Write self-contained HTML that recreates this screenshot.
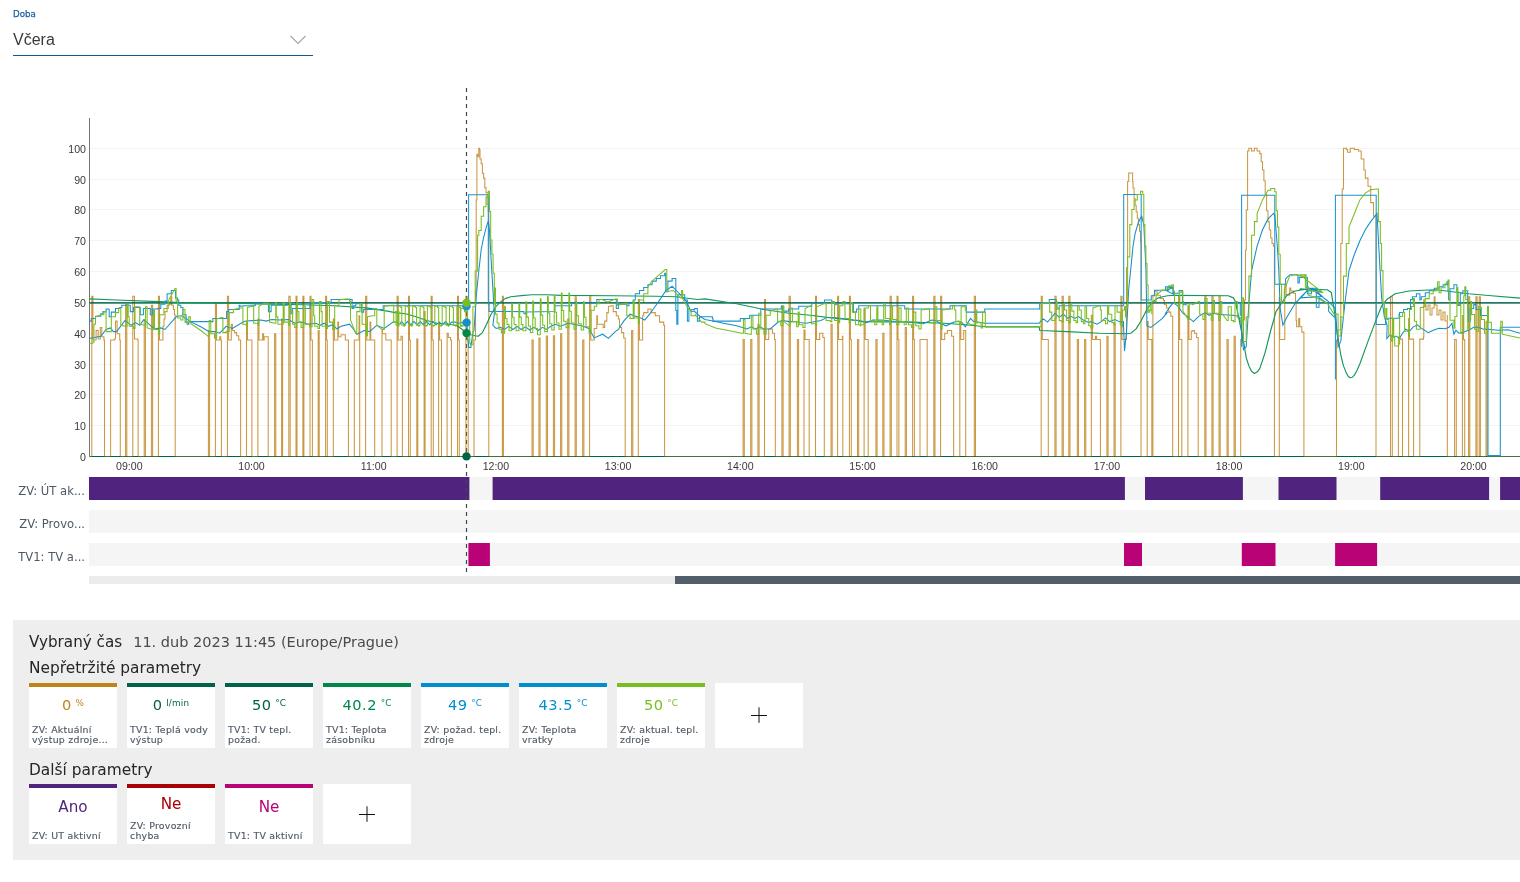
<!DOCTYPE html>
<html lang="cs"><head><meta charset="utf-8"><title>Graf</title>
<style>
*{box-sizing:border-box;margin:0;padding:0}
html,body{width:1520px;height:882px;overflow:hidden;background:#fff}
body{position:relative;font-family:"Liberation Sans","DejaVu Sans",sans-serif;color:#333}
.abs{position:absolute}
.doba{left:13px;top:9px;font-family:"DejaVu Sans",sans-serif;font-size:8.7px;color:#1c62a3;line-height:11px;-webkit-text-stroke:0.25px #1c62a3}
.sel{left:13px;top:30.4px;font-size:16px;color:#3a3a3a;line-height:20px}
.uline{left:13px;top:54.5px;width:300px;height:1.5px;background:#0e5a96}
.chev{left:289px;top:34px}
.chart{position:absolute;left:0;top:0}
.yl,.xl{font-family:"Liberation Sans",sans-serif;font-size:10.6px;fill:#3a3a3a}
.rl{font-family:"DejaVu Sans",sans-serif;font-size:11.6px;fill:#4d5866}
.panel{left:13px;top:620px;width:1507px;height:240px;background:#eeeeee}
.h1{left:29px;top:632px;font-family:"DejaVu Sans",sans-serif;font-size:15.2px;line-height:20px;color:#262626;white-space:nowrap}
.h1 .ts{color:#4a4a4a;margin-left:11px;font-size:14.5px}
.h2{left:29px;font-family:"DejaVu Sans",sans-serif;font-size:15.4px;line-height:20px;color:#262626;white-space:nowrap}
.card{position:absolute;width:88px;background:#fff;border-top:4px solid #000}
.card .val{position:absolute;left:0;right:0;top:8.9px;text-align:center;font-family:"DejaVu Sans",sans-serif;font-size:14.6px;letter-spacing:0.55px;line-height:18px;white-space:nowrap}
.card .val sup{font-size:8.8px;letter-spacing:0.2px;vertical-align:top;position:relative;top:2.2px;margin-left:3.6px;line-height:10px}
.card .lab{position:absolute;left:3px;right:0;bottom:3.7px;font-family:"DejaVu Sans",sans-serif;font-size:9.4px;letter-spacing:0.25px;line-height:9.7px;color:#505a66;white-space:nowrap;-webkit-text-stroke:0.15px #505a66}
.card.plus{border-top:0}
.card.plus svg{position:absolute;left:0;top:0}
.card.c2 .val{font-size:15.2px;letter-spacing:0}
</style></head><body>
<div class="abs doba">Doba</div>
<div class="abs sel">Včera</div>
<svg class="abs chev" width="18" height="12" viewBox="0 0 18 12"><path d="M1.5 2 L9 9.5 L16.5 2" fill="none" stroke="#a6a6a6" stroke-width="1.1"/></svg>
<div class="abs uline"></div>
<svg class="chart" width="1520" height="600" viewBox="0 0 1520 600">
<line x1="90" y1="425.5" x2="1520" y2="425.5" stroke="#f4f4f4" stroke-width="1"/>
<line x1="90" y1="394.5" x2="1520" y2="394.5" stroke="#f4f4f4" stroke-width="1"/>
<line x1="90" y1="364.5" x2="1520" y2="364.5" stroke="#f4f4f4" stroke-width="1"/>
<line x1="90" y1="333.5" x2="1520" y2="333.5" stroke="#f4f4f4" stroke-width="1"/>
<line x1="90" y1="302.5" x2="1520" y2="302.5" stroke="#f4f4f4" stroke-width="1"/>
<line x1="90" y1="271.5" x2="1520" y2="271.5" stroke="#f4f4f4" stroke-width="1"/>
<line x1="90" y1="240.5" x2="1520" y2="240.5" stroke="#f4f4f4" stroke-width="1"/>
<line x1="90" y1="209.5" x2="1520" y2="209.5" stroke="#f4f4f4" stroke-width="1"/>
<line x1="90" y1="179.5" x2="1520" y2="179.5" stroke="#f4f4f4" stroke-width="1"/>
<line x1="90" y1="148.5" x2="1520" y2="148.5" stroke="#f4f4f4" stroke-width="1"/>
<line x1="89.5" y1="118" x2="89.5" y2="456.5" stroke="#757575" stroke-width="1"/>
<text x="86" y="460.6" text-anchor="end" class="yl">0</text>
<text x="86" y="429.8" text-anchor="end" class="yl">10</text>
<text x="86" y="398.8" text-anchor="end" class="yl">20</text>
<text x="86" y="368.8" text-anchor="end" class="yl">30</text>
<text x="86" y="337.8" text-anchor="end" class="yl">40</text>
<text x="86" y="306.8" text-anchor="end" class="yl">50</text>
<text x="86" y="275.8" text-anchor="end" class="yl">60</text>
<text x="86" y="244.8" text-anchor="end" class="yl">70</text>
<text x="86" y="213.8" text-anchor="end" class="yl">80</text>
<text x="86" y="183.8" text-anchor="end" class="yl">90</text>
<text x="86" y="152.8" text-anchor="end" class="yl">100</text>
<text x="129.3" y="470" text-anchor="middle" class="xl">09:00</text>
<text x="251.5" y="470" text-anchor="middle" class="xl">10:00</text>
<text x="373.7" y="470" text-anchor="middle" class="xl">11:00</text>
<text x="495.9" y="470" text-anchor="middle" class="xl">12:00</text>
<text x="618.1" y="470" text-anchor="middle" class="xl">13:00</text>
<text x="740.3" y="470" text-anchor="middle" class="xl">14:00</text>
<text x="862.5" y="470" text-anchor="middle" class="xl">15:00</text>
<text x="984.7" y="470" text-anchor="middle" class="xl">16:00</text>
<text x="1106.9" y="470" text-anchor="middle" class="xl">17:00</text>
<text x="1229.1" y="470" text-anchor="middle" class="xl">18:00</text>
<text x="1351.3" y="470" text-anchor="middle" class="xl">19:00</text>
<text x="1473.5" y="470" text-anchor="middle" class="xl">20:00</text>
<rect x="89" y="477" width="1431" height="23" fill="#f5f5f5"/>
<rect x="89" y="510" width="1431" height="23" fill="#f5f5f5"/>
<rect x="89" y="543" width="1431" height="23" fill="#f5f5f5"/>
<rect x="89" y="477" width="380.4" height="23" fill="#50237f"/>
<rect x="492.6" y="477" width="632.3" height="23" fill="#50237f"/>
<rect x="1145" y="477" width="97.9" height="23" fill="#50237f"/>
<rect x="1278.5" y="477" width="58.0" height="23" fill="#50237f"/>
<rect x="1380.2" y="477" width="108.9" height="23" fill="#50237f"/>
<rect x="1500.1" y="477" width="19.9" height="23" fill="#50237f"/>
<rect x="468.4" y="543" width="21.5" height="23" fill="#b90276"/>
<rect x="1124" y="543" width="18.0" height="23" fill="#b90276"/>
<rect x="1241.8" y="543" width="33.7" height="23" fill="#b90276"/>
<rect x="1335.1" y="543" width="42.0" height="23" fill="#b90276"/>
<text x="85" y="494.9" text-anchor="end" class="rl">ZV: ÚT ak...</text>
<text x="85" y="527.9" text-anchor="end" class="rl">ZV: Provo...</text>
<text x="85" y="560.8" text-anchor="end" class="rl">TV1: TV a...</text>
<rect x="89" y="576" width="586" height="8" fill="#ececec"/>
<rect x="675" y="576" width="845" height="8" fill="#525f6b"/>
<line x1="466.5" y1="88" x2="466.5" y2="572" stroke="#3c4754" stroke-width="1.2" stroke-dasharray="4 4"/>
<path d="M91.8 456.4L91.8 296.3L92.9 296.3L92.9 340L95.5 340L96.1 340L96.1 330.5L97.6 330.5L98.2 330.5L98.2 338.9L100.3 338.9L100.3 327.4L101.3 327.4L101.8 327.4L101.8 336.8L103.9 336.8L103.9 340L104.5 340L104.5 456.4M110.6 456.4L110.6 340L114.5 340L114.5 338.9L115.5 338.9L115.5 321.1L116.6 321.1L117.1 321.1L117.1 333.7L118.7 333.7L119.7 333.7L119.7 340L120.3 340L120.3 456.4M125.6 456.4L125.6 304.2L126.8 304.2L126.8 456.4M132.8 456.4L132.8 296.3L134 296.3L134.5 296.3L134.5 338.9L137.6 338.9L137.6 340L138.1 340L138.1 456.4M144.2 456.4L144.2 320L145.4 320L145.4 456.4M151.4 456.4L151.4 305.3L152.6 305.3L152.6 456.4M158.4 456.4L158.4 296.3L159.5 296.3L159.5 340L162.4 340L162.9 340L162.9 326.3L164 326.3L164 319L165 319L165 311.6L167.1 311.6L167.1 305.3L169.2 305.3L169.2 304.2L170.8 304.2L170.8 296.8L171.8 296.8L171.8 305.3L173.4 305.3L173.4 309.5L174.5 309.5L174.5 314.7L175.2 314.7L175.2 456.4M208.4 456.4L208.4 330.5L209.6 330.5L209.6 456.4M215.4 456.4L215.4 303.2L216.5 303.2L216.5 340L218.7 340L219.7 340L219.7 336.8L220.8 336.8L220.8 340L221.4 340L221.4 456.4M227.4 456.4L227.4 296.3L228.6 296.3L228.6 340L230.8 340L231.3 340L231.3 324.2L232.4 324.2L232.4 330.5L234.5 330.5L234.5 332.6L236.6 332.6L236.6 335.8L238.7 335.8L238.7 340L240.6 340L240.6 456.4M246.5 456.4L246.5 322.1L247.5 322.1L247.5 340L251.9 340L251.9 456.4M257.9 456.4L257.9 319L259 319L259 340L262.4 340L262.6 340L262.6 333.7L263.4 333.7L263.6 333.7L263.6 340L264.2 340L264.2 336.8L267.6 336.8L268.2 336.8L268.2 340L268.2 456.4M274.6 456.4L274.6 333.7L275.8 333.7L275.8 456.4M281.6 456.4L281.6 319L282.6 319L282.6 456.4M288.8 456.4L288.8 296.3L290.2 296.3L290.2 456.4M296 456.4L296 296.3L297 296.3L297 456.4M302.9 456.4L302.9 296.3L303.9 296.3L303.9 456.4M310 456.4L310 296.3L311 296.3L311 340L312.4 340L312.4 456.4M318.2 456.4L318.2 330.5L319.2 330.5L319.2 456.4M325.6 456.4L325.6 296.3L326.6 296.3L326.6 340L327.3 340L327.3 456.4M333.3 456.4L333.3 319L334.4 319L334.4 340L337.8 340L337.8 322.1L338.6 322.1L338.6 336.8L341 336.8L341 334.7L343.2 334.7L345.3 334.7L345.3 340L348.4 340L348.4 456.4M354.3 456.4L354.3 340L359 340L359 315.8L359.7 315.8L359.7 456.4M365.6 456.4L365.6 296.3L366.8 296.3L366.8 340L370 340L370 322.1L370.8 322.1L370.8 340L374.7 340L374.7 456.4M382 456.4L382 330L382.5 330L382.5 333.7L385.5 333.7L385.8 333.7L385.8 340L391.2 340L391.2 456.4M397.1 456.4L397.1 296.3L398.2 296.3L398.2 340L400.5 340L401 340L401 336.3L402 336.3L402.4 336.3L402.4 340L402.4 456.4M408.5 456.4L408.5 296.3L409.5 296.3L409.5 340L410.3 340L410.3 456.4M416.8 456.4L416.8 339L417.8 339L417.8 456.4M424.1 456.4L424.1 311.6L425.1 311.6L425.1 456.4M431.2 456.4L431.2 296.3L432.2 296.3L432.2 340L433.3 340L433.3 456.4M438.6 456.4L438.6 322L439.6 322L439.6 340L441.5 340L441.5 456.4M447.1 456.4L447.1 333.2L448.3 333.2L448.3 337.4L450.5 337.4L450.5 340L451.4 340L451.4 456.4M457.5 456.4L457.5 296.3L458.5 296.3L458.5 340L459.3 340L459.3 456.4M465.9 456.4L465.9 296.3L467.2 296.3L467.2 340L468.2 340L468.2 456.4M474 456.4L474 340L475.5 340L475.5 290L476.2 290L476.2 200L476.9 200L476.9 154.3L477.6 154.3L477.6 156.7L478.8 156.7L478.8 148.3L479.5 148.3L479.5 149.5L480 149.5L480 159L481.2 159L481.2 163.8L482.4 163.8L482.4 173.3L483.6 173.3L483.6 178.1L484.8 178.1L484.8 187.6L486 187.6L486 192.4L487.1 192.4L487.1 204.3L488.3 204.3L488.3 211.4L488.8 211.4L488.8 456.4M502.4 456.4L502.4 296.3L503.4 296.3L503.4 456.4M532 456.4L532 340L533.2 340L533.2 456.4M538.9 456.4L538.9 338L540.1 338L540.1 456.4M546.3 456.4L546.3 336L547.5 336L547.5 456.4M553.4 456.4L553.4 335.8L554.6 335.8L554.6 456.4M560.6 456.4L560.6 333.7L561.8 333.7L561.8 456.4M567.7 456.4L567.7 319L568.9 319L568.9 456.4M575.1 456.4L575.1 296.8L576.3 296.8L576.3 456.4M582.7 456.4L582.7 340L583.9 340L583.9 456.4M589.6 456.4L589.6 296.8L590.8 296.8L590.8 340L593.2 340L594.2 340L594.2 328.4L596.3 328.4L596.8 328.4L596.8 315.8L597.4 315.8L597.4 324.2L602.6 324.2L603.2 324.2L603.2 327.4L604.7 327.4L604.7 321.1L606.8 321.1L606.8 312.6L608.4 312.6L608.4 306.3L611.1 306.3L611.1 305.8L613.2 305.8L613.2 311.6L616.3 311.6L616.3 315.8L618.4 315.8L618.4 318.9L619.5 318.9L619.5 327.4L621.6 327.4L621.6 332.6L623.7 332.6L623.7 337.9L625.2 337.9L625.2 341L625.2 456.4M631.6 456.4L631.6 330.5L632.8 330.5L632.8 456.4M638.3 456.4L638.3 299.5L639.4 299.5L639.4 340L642.6 340L642.6 315.8L643.7 315.8L643.7 312.6L647.9 312.6L647.9 309L651.1 309L651.1 312.6L655.3 312.6L655.3 315.8L659.5 315.8L659.5 322.1L663.7 322.1L663.7 325.3L664.6 325.3L664.6 456.4M743.1 456.4L743.1 339.5L744.3 339.5L744.3 456.4M750.7 456.4L750.7 339.5L751.9 339.5L751.9 456.4M757.9 456.4L757.9 324.2L759.1 324.2L759.1 456.4M764.5 456.4L764.5 299.5L765.6 299.5L765.6 339.5L768.2 339.5L768.7 339.5L768.7 328.9L772.4 328.9L772.4 333.2L774.5 333.2L774.5 339.5L775.3 339.5L775.3 456.4M781.9 456.4L781.9 305.8L783.1 305.8L783.1 456.4M789.1 456.4L789.1 296.3L790.3 296.3L790.3 456.4M797.4 456.4L797.4 339.5L798.6 339.5L798.6 456.4M804 456.4L804 330L805 330L805 339.5L809.2 339.5L809.2 456.4M815.5 456.4L815.5 296.3L816.5 296.3L816.5 339.5L819.7 339.5L819.7 333.2L822.9 333.2L822.9 337.4L824.3 337.4L824.3 456.4M831 456.4L831 324.2L832.2 324.2L832.2 456.4M837.6 456.4L837.6 296.3L838.6 296.3L838.6 339.5L841.8 339.5L842.4 339.5L842.4 336.3L842.8 336.3L842.8 456.4M849.4 456.4L849.4 296.3L850.4 296.3L850.4 339.5L851.3 339.5L851.3 456.4M857.5 456.4L857.5 339.5L858.7 339.5L858.7 456.4M864.1 456.4L864.1 309L865.2 309L865.2 339.5L868.2 339.5L868.2 456.4M875.9 456.4L875.9 339.5L877.1 339.5L877.1 456.4M882.8 456.4L882.8 333.2L884 333.2L884 456.4M890.1 456.4L890.1 296.3L891.3 296.3L891.3 456.4M897 456.4L897 296.3L898 296.3L898 339.5L898.9 339.5L898.9 456.4M905.2 456.4L905.2 327.4L906.4 327.4L906.4 456.4M912.6 456.4L912.6 296.3L913.6 296.3L913.6 339.5L914.4 339.5L914.4 456.4M920 456.4L920 339.5L927.2 339.5L927.2 456.4M933.8 456.4L933.8 296.3L935 296.3L935 456.4M940.6 456.4L940.6 296.3L941.7 296.3L941.7 339.5L944.2 339.5L944.7 339.5L944.7 333.2L947.4 333.2L947.4 330.5L950 330.5L951.6 330.5L951.6 336.3L953.6 336.3L953.6 456.4M959.8 456.4L959.8 322.6L960.8 322.6L960.8 339.5L963.7 339.5L963.7 330.5L965.7 330.5L965.7 456.4M974.3 456.4L974.3 296.3L975.5 296.3L975.5 456.4M1041.2 456.4L1041.2 296.3L1042.3 296.3L1042.3 339.5L1048.3 339.5L1048.3 456.4M1054.9 456.4L1054.9 296.3L1056.1 296.3L1056.1 456.4M1062.1 456.4L1062.1 296.3L1063.3 296.3L1063.3 456.4M1068.8 456.4L1068.8 296.3L1070 296.3L1070 456.4M1077.3 456.4L1077.3 339.5L1078.5 339.5L1078.5 456.4M1084.6 456.4L1084.6 339.5L1085.8 339.5L1085.8 456.4M1091.3 456.4L1091.3 315.3L1092.4 315.3L1092.4 339.5L1095 339.5L1095.5 339.5L1095.5 336.3L1096.6 336.3L1096.6 339.5L1100.4 339.5L1100.4 456.4M1106.9 456.4L1106.9 336.3L1108.1 336.3L1108.1 456.4M1114 456.4L1114 323.7L1115.2 323.7L1115.2 456.4M1120.9 456.4L1120.9 296.3L1122 296.3L1122 339.5L1125.5 339.5L1126.5 339.5L1126.5 267.7L1127.6 267.7L1127.6 181.5L1128.7 181.5L1128.7 172.9L1131.9 172.9L1132.6 172.9L1132.6 181.5L1133 181.5L1133 188L1134.1 188L1134.1 198.8L1135.2 198.8L1135.2 205.2L1136.2 205.2L1136.2 211.7L1137.3 211.7L1137.3 218.2L1138.4 218.2L1138.4 224.6L1139.5 224.6L1139.5 231.1L1140.5 231.1L1140.5 241.9L1141 241.9L1141 456.4M1147.2 456.4L1147.2 321.6L1148.2 321.6L1148.2 339.5L1151.8 339.5L1151.8 456.4M1152.9 456.4L1152.9 295.3L1155 295.3L1155 291L1157.1 291L1157.1 295.3L1160.3 295.3L1160.3 298.4L1163.4 298.4L1163.4 300.5L1164.5 300.5L1164.5 304.7L1166.6 304.7L1166.6 307.9L1168.7 307.9L1168.7 312.1L1170.8 312.1L1170.8 316.3L1172.7 316.3L1172.7 320.5L1172.7 456.4M1178.5 456.4L1178.5 296.3L1179.6 296.3L1179.6 339.5L1181.8 339.5L1181.8 456.4M1187.9 456.4L1187.9 305.8L1188.9 305.8L1188.9 339.5L1191.3 339.5L1191.3 331.1L1192.9 331.1L1192.9 330.5L1194.5 330.5L1194.5 333.2L1196.6 333.2L1196.6 337.4L1198.2 337.4L1198.2 340.5L1198.2 456.4M1204.8 456.4L1204.8 296.3L1206 296.3L1206 456.4M1211.9 456.4L1211.9 296.3L1213.1 296.3L1213.1 456.4M1219 456.4L1219 296.3L1220.2 296.3L1220.2 456.4M1227 456.4L1227 339.5L1228.2 339.5L1228.2 456.4M1234.1 456.4L1234.1 336.3L1235.3 336.3L1235.3 456.4M1240.7 456.4L1240.7 339.5L1243 339.5L1243 320L1244.6 320L1244.6 300L1245.5 300L1245.5 250L1246.3 250L1246.3 210L1247.6 210L1247.6 150.9L1248.9 150.9L1248.9 148.2L1251.6 148.2L1251.6 150.9L1254.4 150.9L1254.4 148.2L1257.1 148.2L1257.1 150.9L1259.8 150.9L1259.8 153.6L1261.2 153.6L1261.2 161.8L1262.5 161.8L1262.5 169.9L1263.9 169.9L1263.9 180.8L1265.2 180.8L1265.2 194.4L1266.6 194.4L1266.6 210.7L1268 210.7L1268 221.6L1269.3 221.6L1269.3 229.8L1270.7 229.8L1270.7 238L1272 238L1272 243.4L1273.4 243.4L1273.4 246.1L1274.4 246.1L1274.4 456.4M1279.3 456.4L1279.3 297.4L1279.7 297.4L1279.7 339.5L1284.5 339.5L1284.8 339.5L1284.8 284.7L1286.1 284.7L1286.1 295.3L1289.2 295.3L1289.7 295.3L1289.7 287.9L1290.8 287.9L1290.8 291L1293.4 291L1293.4 293.2L1295.5 293.2L1295.5 301.6L1296.1 301.6L1296.1 320.5L1296.6 320.5L1296.6 326.8L1298.7 326.8L1298.7 318.4L1299.7 318.4L1299.7 326.8L1301.8 326.8L1301.8 332.1L1303.9 332.1L1303.9 338.4L1303.9 456.4M1336.5 456.4L1336.5 340L1338 340L1338 330L1340.8 330L1340.8 243.4L1342.2 243.4L1342.2 189L1343.5 189L1343.5 148.2L1346.3 148.2L1346.3 149.5L1347.6 149.5L1347.6 152.2L1350.3 152.2L1350.3 148.2L1354.4 148.2L1354.4 149.5L1358.5 149.5L1358.5 150.9L1361.2 150.9L1361.2 159L1363.9 159L1363.9 169.9L1365.3 169.9L1365.3 178.1L1368 178.1L1368 186.3L1370.7 186.3L1370.7 202.6L1373.5 202.6L1373.5 216.2L1376 216.2L1376 227.1L1376 456.4M1390.5 456.4L1390.5 296.7L1392.3 296.7L1392.3 456.4M1398.4 456.4L1398.4 337.1L1400 337.1L1400 339.1L1402.5 339.1L1402.5 456.4M1408.6 456.4L1408.6 318.4L1409.5 318.4L1409.5 339.1L1413.6 339.1L1413.6 456.4M1419.8 456.4L1419.8 339.1L1423.5 339.1L1423.5 337.1L1423.8 337.1L1423.8 299.6L1424.3 299.6L1424.3 305L1426 305L1426 310L1428 310L1428 305L1430 305L1430 315L1432 315L1432 308L1434.2 308L1434.2 296.7L1435 296.7L1435 305L1437 305L1437 315L1439 315L1439 310L1441 310L1441 320L1443 320L1443 312L1445 312L1445 321L1447.3 321L1447.3 315L1447.3 456.4M1454.6 456.4L1454.6 339.6L1456.3 339.6L1456.3 456.4M1462.4 456.4L1462.4 315.4L1463.5 315.4L1463.5 339.6L1464.7 339.6L1464.7 456.4M1468.6 456.4L1468.6 296.7L1469.8 296.7L1469.8 456.4M1475.9 456.4L1475.9 296.7L1477.1 296.7L1477.1 456.4M1479.2 456.4L1479.2 296.7L1480.4 296.7L1480.4 456.4M1486 456.4L1486 321.3L1487.2 321.3L1487.2 456.4" fill="none" stroke="#bb7b0e" stroke-opacity="0.78" stroke-width="1.05" stroke-linejoin="miter"/>
<line x1="89.5" y1="456.4" x2="1520" y2="456.4" stroke="#00624a" stroke-width="1.05"/>
<path d="M89.5 456.4H91.8M104.5 456.4H110.6M120.3 456.4H125.6M126.8 456.4H132.8M138.1 456.4H144.2M145.4 456.4H151.4M152.6 456.4H158.4M175.2 456.4H208.4M209.6 456.4H215.4M221.4 456.4H227.4M240.6 456.4H246.5M251.9 456.4H257.9M268.2 456.4H274.6M275.8 456.4H281.6M282.6 456.4H288.8M290.2 456.4H296M297 456.4H302.9M303.9 456.4H310M312.4 456.4H318.2M319.2 456.4H325.6M327.3 456.4H333.3M348.4 456.4H354.3M359.7 456.4H365.6M374.7 456.4H382M391.2 456.4H397.1M402.4 456.4H408.5M410.3 456.4H416.8M417.8 456.4H424.1M425.1 456.4H431.2M433.3 456.4H438.6M441.5 456.4H447.1M451.4 456.4H457.5M459.3 456.4H465.9M468.2 456.4H474M488.8 456.4H502.4M503.4 456.4H532M533.2 456.4H538.9M540.1 456.4H546.3M547.5 456.4H553.4M554.6 456.4H560.6M561.8 456.4H567.7M568.9 456.4H575.1M576.3 456.4H582.7M583.9 456.4H589.6M625.2 456.4H631.6M632.8 456.4H638.3M664.6 456.4H743.1M744.3 456.4H750.7M751.9 456.4H757.9M759.1 456.4H764.5M775.3 456.4H781.9M783.1 456.4H789.1M790.3 456.4H797.4M798.6 456.4H804M809.2 456.4H815.5M824.3 456.4H831M832.2 456.4H837.6M842.8 456.4H849.4M851.3 456.4H857.5M858.7 456.4H864.1M868.2 456.4H875.9M877.1 456.4H882.8M884 456.4H890.1M891.3 456.4H897M898.9 456.4H905.2M906.4 456.4H912.6M914.4 456.4H920M927.2 456.4H933.8M935 456.4H940.6M953.6 456.4H959.8M965.7 456.4H974.3M975.5 456.4H1041.2M1048.3 456.4H1054.9M1056.1 456.4H1062.1M1063.3 456.4H1068.8M1070 456.4H1077.3M1078.5 456.4H1084.6M1085.8 456.4H1091.3M1100.4 456.4H1106.9M1108.1 456.4H1114M1115.2 456.4H1120.9M1141 456.4H1147.2M1151.8 456.4H1152.9M1172.7 456.4H1178.5M1181.8 456.4H1187.9M1198.2 456.4H1204.8M1206 456.4H1211.9M1213.1 456.4H1219M1220.2 456.4H1227M1228.2 456.4H1234.1M1235.3 456.4H1240.7M1274.4 456.4H1279.3M1303.9 456.4H1336.5M1376 456.4H1390.5M1392.3 456.4H1398.4M1402.5 456.4H1408.6M1413.6 456.4H1419.8M1447.3 456.4H1454.6M1456.3 456.4H1462.4M1464.7 456.4H1468.6M1469.8 456.4H1475.9M1477.1 456.4H1479.2M1480.4 456.4H1486M1487.2 456.4H1520" fill="none" stroke="#c08519" stroke-opacity="0.4" stroke-width="1.05"/>
<line x1="89.5" y1="302.9" x2="1520" y2="302.9" stroke="#00624a" stroke-opacity="0.85" stroke-width="1.6"/>
<path d="M89.2 298.9L116.6 300L158.7 301.6L179.7 302.6L245 303.4L250.5 303.8L303.2 304.7L334.7 305.8L366.3 307.9L387.4 311.1L395 312.6L405.5 313.7L416.1 316.8L426.6 320.5L437.1 323.2L447.6 324.2L456.1 325.3L462.4 329.5L466.6 333.2L470.8 334.7L475 335.8L478.2 336.3L482.4 332.6L486.6 324.2L490.8 314.7L496.1 306.3L500.3 302.1L505.5 298.4L510.8 296.8L521.3 295.6L531.8 294.7L547.6 294.7L560.5 295.4L613.2 295.8L655.3 296.3L676.3 296.8L697.4 299.5L705 298.9L736.6 303.7L763.9 309.5L789.2 313.2L810.3 315.3L831.3 317.9L857.6 320.5L860 321.6L912.6 322.1L944.2 323.2L965.3 324.7L985.3 326.8L1020 326.8L1039.2 326.8L1039.7 330.5L1067.6 331.6L1099.2 333.2L1125.5 333.7L1130.8 333.2L1136.1 328.9L1141.3 320.5L1146.6 310L1151.8 302.6L1157.1 298.4L1162.4 296.8L1167.6 295.8L1175 295.3L1175.5 295.3L1228.2 295.8L1233.4 297.9L1235.5 301.6L1237.6 312.1L1239.7 322.6L1241.8 333.2L1243.9 343.7L1246.2 357.7L1248.9 365.9L1251.6 371.3L1254.4 373.5L1257.1 372.1L1259.8 368.6L1265.2 352.2L1270.7 330.5L1276.1 311.4L1281.6 303.3L1287 295.1L1295.2 291L1306.1 289.1L1316.9 289.7L1300 289.1L1327.2 289.7L1331.3 292.4L1334 308.7L1336.7 330.5L1340.8 355L1343.5 365.9L1346.3 372.9L1348.4 376.5L1350.3 377.8L1352.2 377.3L1354.4 375.1L1357.1 370.2L1359.9 363.7L1368 341.4L1376.2 319.6L1381.6 306L1387.1 299.2L1395.2 293.7L1408.8 291L1422.4 290.2L1436.1 289.7L1468.7 293.7L1488.5 295.5L1520 298.1" fill="none" stroke="#12985a" stroke-width="1.15" stroke-linejoin="round"/>
<path d="M89.2 321.1L91.3 321.1L91.3 318.4L95.5 318.4L95.5 316.3L100.8 316.3L100.8 313.7L102.9 313.7L102.9 311.6L106.1 311.6L106.1 308.9L108.2 308.9L108.7 308.9L108.7 309.5L109.2 309.5L109.2 316.8L110.3 316.8L111.3 316.8L111.3 312.1L115.5 312.1L115.5 308.4L119.7 308.4L119.7 307.4L121.8 307.4L121.8 305.3L129.2 305.3L130.3 305.3L130.3 311.6L131.8 311.6L133.4 311.6L133.4 307.4L138.7 307.4L140.3 307.4L140.3 314.7L141.8 314.7L143.4 314.7L143.4 308.4L149.2 308.4L150.3 308.4L150.3 314.7L151.3 314.7L152.4 314.7L152.4 308.9L157.6 308.9L157.6 308.4L160.8 308.4L160.8 304.2L165 304.2L165 301.1L167.1 301.1L167.1 293.7L171.3 293.7L171.3 290.5L175 290.5L175.5 290.5L175.5 297.9L177.6 297.9L177.6 300L178.7 300L178.7 305.3L180.8 305.3L180.8 307.4L182.9 307.4L182.9 314.7L186.1 314.7L186.1 322.1L187.1 322.1L187.1 324.2L188.7 324.2L188.7 321.6L212.4 321.6L212.9 321.6L212.9 318.4L226.1 318.4L226.6 318.4L226.6 311.6L228.2 311.6L228.7 311.6L228.7 309.5L238.7 309.5L239.2 309.5L239.2 305.3L240 305.3L240 306.3L243.2 306.3L243.2 305.8L254.7 305.8L255.3 305.8L255.3 303.2L267.4 303.2L268.4 303.2L268.4 311.6L270 311.6L271.1 311.6L271.1 305.3L286.3 305.3L287.4 305.3L287.4 302.6L290.5 302.6L291.1 302.6L291.1 313.7L292.1 313.7L292.6 313.7L292.6 308.4L309.5 308.4L310 308.4L310 302.6L330.5 302.6L331.1 302.6L331.1 299.5L351.6 299.5L352.1 299.5L352.1 308.4L353.2 308.4L353.7 308.4L353.7 305.8L355.8 305.8L355.8 303.7L361.1 303.7L361.6 303.7L361.6 312.1L362.6 312.1L363.7 312.1L363.7 309.5L382.1 309.5L383.2 309.5L383.2 305.8L395 305.8L460.3 305.8L462.4 305.8L462.4 306.3L468.2 306.8L468.6 306.8L468.6 304.3L468.6 194.8L488.3 194.8L488.3 304.3L489 304.3L489 311.4L523.4 311.6L523.9 311.6L523.9 313.7L525 313.7L525.5 313.7L525.5 312.1L554.2 311.6L554.7 311.6L554.7 305.8L571.1 305.8L571.6 305.8L571.6 303.2L596.3 303.2L596.8 303.2L596.8 299.5L615.3 299.5L616.3 299.5L616.3 308.4L617.4 308.4L618.4 308.4L618.4 304.2L625.8 304.2L626.8 304.2L626.8 305.8L628.4 305.8L628.9 305.8L628.9 303.2L633.2 303.2L633.2 300L635.3 300L635.3 293.7L639.5 293.7L639.5 290.5L643.7 290.5L643.7 287.4L647.9 287.4L647.9 284.7L652.1 284.7L652.1 281.1L656.3 281.1L656.3 278.4L660.5 278.4L660.5 275.8L664.7 275.8L664.7 273.2L665.8 273.2L665.8 291.6L667.4 291.6L667.9 291.6L667.9 281.1L672.1 281.1L672.1 278.4L675.3 278.4L675.8 278.4L675.8 310.5L676.8 310.5L676.8 324.2L677.9 324.2L677.9 294.7L684.7 294.7L684.7 300L686.8 300L687.4 300L687.4 321.1L688.4 321.1L688.9 321.1L688.9 309.5L694.2 309.5L694.7 309.5L694.7 308.4L696.8 308.4L697.4 308.4L697.4 321.1L698.4 321.1L699.5 321.1L699.5 316.8L710 316.8L712.4 316.8L712.4 318.4L712.9 318.4L712.9 321.1L739.7 321.1L740.3 321.1L740.3 318.4L749.2 318.4L749.7 318.4L749.7 315.3L759.7 315.3L760.8 315.3L760.8 308.9L780.8 308.9L781.3 308.9L781.3 306.3L782.4 306.3L782.9 306.3L782.9 311.1L788.2 311.1L788.7 311.1L788.7 308.9L797.6 308.9L798.7 308.9L798.7 306.3L811.3 306.3L811.8 306.3L811.8 303.2L823.9 303.2L824.5 303.2L824.5 300L831.3 300L831.8 300L831.8 302.6L834.5 302.6L834.5 304.7L836.1 304.7L836.1 303.7L852.4 303.7L853.4 303.7L853.4 312.1L855 312.1L856.6 312.1L856.6 308.9L858.7 308.9L858.7 305.8L865 305.8L904.2 305.8L904.7 305.8L904.7 308.9L949.5 308.9L950 308.9L950 305.8L965.3 305.8L966.3 305.8L966.3 312.1L984.2 312.1L984.7 312.1L984.7 308.9L1020 308.9L1039.2 308.9L1039.7 308.9L1039.7 302.6L1048.7 302.6L1049.2 302.6L1049.2 299.5L1055.5 299.5L1056.1 299.5L1056.1 302.6L1056.6 302.6L1056.6 308.9L1057.1 308.9L1059.2 308.9L1059.2 305.8L1123.4 305.8L1123.7 305.8L1123.7 194.5L1141.2 194.5L1141.2 300L1150.2 300L1151.3 300L1151.3 295.7L1154.5 295.7L1154.5 290.3L1167.5 290.3L1168.6 290.3L1168.6 287.1L1173.9 287.1L1166.6 290.5L1167.6 290.5L1167.6 287.4L1172.9 287.4L1173.4 287.4L1173.4 294.2L1165 290L1165.5 290L1165.5 286.8L1172.4 286.8L1172.9 286.8L1172.9 293.2L1178.7 293.2L1179.2 293.2L1179.2 290.5L1181.8 290.5L1182.4 290.5L1182.4 301.6L1183.4 301.6L1183.4 304.7L1186.1 304.7L1186.1 303.7L1194.5 303.7L1195 303.7L1195 303.2L1238.7 303.2L1240.3 303.2L1240.3 315.3L1241.6 315.3L1241.6 346.8L1241.6 195.2L1274.8 195.2L1274.8 284.2L1284.3 284.2L1285.6 284.2L1285.6 278.8L1289.7 274.7L1296.5 274.7L1297.9 274.7L1297.9 282.9L1299.3 282.9L1299.3 277.4L1306.1 277.4L1307.4 277.4L1307.4 293.7L1310.1 293.7L1311.5 293.7L1311.5 288.3L1316.9 288.3L1322.4 292.4L1305.4 286.9L1308.2 286.9L1308.2 291L1310.9 291L1310.9 288.3L1315 288.3L1316.3 288.3L1316.3 307.3L1317.7 307.3L1319 307.3L1319 297.8L1327.2 303.3L1328.6 303.3L1328.6 311.4L1334 316.9L1335.4 316.9L1335.4 379.5L1335.4 195.2L1376.2 195.2L1376.2 324.5L1384.4 324.5L1385.7 324.5L1385.7 318.2L1398 318.2L1399.3 318.2L1399.3 314.1L1399.1 314.1L1399.1 317.9L1399.6 317.9L1399.6 312.4L1403.6 312.4L1403.6 309.5L1407.5 309.5L1407.5 308.5L1410 308.5L1410.5 308.5L1410.5 299.6L1412.4 299.6L1412.4 296.7L1416.4 296.7L1416.4 293.7L1419.4 293.7L1419.9 293.7L1419.9 299.6L1420.8 299.6L1421.3 299.6L1421.3 296.7L1425.3 296.7L1425.3 292.7L1429.2 292.7L1429.2 290.7L1434.2 290.7L1434.2 288.3L1439.1 288.3L1439.1 286.8L1443.1 286.8L1443.1 284.8L1447 284.8L1447 281.8L1447.5 281.8L1448 281.8L1448 290.7L1448.5 290.7L1448.5 299.6L1449.5 299.6L1450 299.6L1450 288.8L1453.9 288.8L1453.9 284.8L1456.4 284.8L1456.9 284.8L1456.9 291.7L1457.9 291.7L1457.9 305.5L1458.8 305.5L1460.3 305.5L1460.3 293.7L1462.8 293.7L1462.8 290.7L1467.2 290.7L1467.7 290.7L1467.7 309.5L1468.2 309.5L1468.2 321.3L1469.2 321.3L1470.2 321.3L1470.2 308.5L1473.7 308.5L1473.7 304.6L1475.6 304.6L1476.1 304.6L1476.1 309.5L1480.1 309.5L1480.6 309.5L1480.6 315.4L1487.5 315.4L1488 315.4L1488 455.6L1500.3 455.6L1500.3 327.3L1520 327.3" fill="none" stroke="#1b94d2" stroke-width="1.05"/>
<path d="M89.2 338.4L100.8 336.3L106.1 329.5L110.3 327.9L113.4 331.6L116.6 331.6L125 320.5L131.3 325.3L135.5 322.6L139.7 325.3L143.9 319.5L150.3 325.3L154.5 328.9L160.8 327.9L165 329.5L176.6 316.3L181.8 315.8L190.3 321.6L200.8 326.8L209.2 331.6L214.5 331.6L219.7 333.2L226.1 326.3L232.4 328.4L243.9 321.6L246.3 321.1L261.1 320L266.3 321.1L271.6 319.5L280 320L288.4 319.5L294.7 323.2L301.1 322.1L308.4 324.2L315.8 323.2L320 325.3L324.2 323.2L328.4 326.3L332.6 324.7L336.8 328.9L341.1 326.3L349.5 324.2L353.7 329.5L356.8 334.2L364.2 330.5L369.5 331.6L376.8 325.3L384.2 328.4L393.7 321.6L400 324.2L401.3 321.6L404.5 324.7L407.6 321.6L410.8 324.7L413.9 321.6L417.1 324.7L420.3 321.6L423.4 324.7L426.6 321.6L429.7 324.7L432.9 321.6L436.1 324.7L439.2 322.1L442.4 324.7L445.5 321.6L448.7 324.7L451.8 322.1L455 322.1L458.2 323.2L462.4 322.6L466.6 322.6L468.7 347.4L470.8 347.4L472.9 332.6L474 330.5L476.4 294.8L478.8 271L481.2 249.5L483.6 237.6L486 228.1L488.3 221L489.5 230.5L490.7 251.9L491.9 273.3L493.1 292.4L494.3 313.8L492.9 325.3L496.1 328.4L500.3 327.4L504.5 329.5L508.7 326.3L512.9 329.5L517.1 326.3L521.3 329.5L525.5 326.8L529.7 330L533.9 327.4L538.2 330.5L542.4 327.4L546.6 329.5L550.8 326.3L555.3 324.2L560.5 326.3L567.9 323.2L581.6 325.8L588.9 328.4L594.2 337.9L602.6 334.2L608.4 338.4L615.3 331.6L618.4 329.5L623.7 321.1L630 314.2L634.2 315.8L639.5 317.4L644.7 320L650 313.7L655.3 306.3L660.5 298.9L665.8 290.5L672.1 286.3L676.3 290.5L681.6 295.8L686.8 302.1L691.1 311.6L694.2 311.1L700.5 316.8L705 319.5L715.5 321.6L726.1 323.7L736.6 325.8L747.1 328.9L751.3 326.8L755.5 328.9L759.7 326.8L763.9 328.9L770.3 328.9L778.7 321.6L782.9 320.5L789.2 321.6L794.5 321.6L799.7 322.6L806.1 323.2L815.5 321.6L820.8 320.5L827.1 317.4L833.4 317.4L841.8 318.4L852.4 320L860 320.5L866.3 322.6L872.6 320L881.1 320L891.6 321.1L902.1 321.6L912.6 322.6L923.2 323.7L931.6 320L935.8 320.5L940 323.2L946.3 325.8L952.6 322.6L958.9 321.1L962.1 322.6L965.3 326.8L970.5 318.4L973.7 321.6L981.1 322.6L985.3 323.2L1020 323.2L1039.2 323.2L1041.3 320.5L1043.4 318.9L1047.6 322.1L1050.8 318.4L1055 313.2L1059.2 317.4L1063.4 314.2L1067.6 318.4L1070.8 316.3L1075 318.4L1078.2 316.3L1082.4 319.5L1088.7 322.6L1090.8 321.6L1097.1 324.2L1101.3 321.6L1105.5 317.9L1109.7 321.6L1115 319.5L1119.2 321.6L1122.4 322.1L1123.4 321.6L1124.5 351.1L1126.5 332.3L1128.7 289.3L1130.9 267.7L1133 246.2L1135.2 233.2L1138.4 222.5L1141.6 216L1143.8 224.6L1145.9 267.7L1147 325.9L1150.8 327.4L1157.1 322.6L1162.4 318.4L1167.6 312.1L1165 314.2L1169.2 307.9L1173.4 302.6L1177.6 305.8L1182.9 313.2L1187.1 316.3L1193.4 321.6L1198.7 316.3L1205 312.6L1209.2 315.3L1213.4 313.2L1217.6 314.2L1223.9 314.7L1232.4 315.3L1238.7 316.3L1240.8 322.6L1243.5 349.5L1246.2 346.8L1248.9 303.3L1251.6 270.6L1257.1 246.1L1262.5 229.8L1268 218.9L1273.4 213.5L1274.8 214.8L1277.5 248.8L1278.8 270.6L1280.2 308.7L1282.9 325L1287 316.9L1295.2 303.3L1303.3 295.1L1308.8 288.3L1314.2 289.1L1322.4 296.5L1300 297.8L1305.4 292.4L1310.9 289.1L1316.3 292.4L1327.2 300.5L1335.4 308.7L1338.1 346.8L1340.8 341.4L1344.9 303.3L1349 270.6L1354.4 254.3L1359.9 240.7L1365.3 229.8L1370.7 221.6L1377 213.5L1378.9 248.8L1381.6 297.8L1384.4 316.9L1387.1 325L1386.8 338.6L1389.7 335.2L1393.7 337.1L1395.7 336.1L1399.6 338.1L1402.6 333.2L1405.5 329.2L1409.5 331.2L1413.4 326.8L1417.4 324.8L1421.3 328.2L1428.2 332.7L1433.2 330.2L1439.1 328.2L1445 328.7L1449 327.3L1451.9 323.3L1453.9 334.2L1455.9 330.2L1458.8 333.2L1462.8 332.2L1468.7 330.2L1473.7 327.3L1478.6 327.3L1483.5 329.2L1488.5 329.2L1493.4 329.7L1498.3 330.2L1508.2 329.7L1520 333.2" fill="none" stroke="#168ccb" stroke-width="1.05"/>
<path d="M89.2 343.2L92.9 343.2L92.9 342.1L93.9 342.1L93.9 324.2L95.5 324.2L95.5 316.8L100.8 314.7L103.9 314.7L103.9 311.6L104.5 311.6L106.1 311.6L106.1 331.6L110.3 331.6L111.3 331.6L111.3 316.8L115.5 316.8L115.5 312.6L118.7 312.6L118.7 307.9L120.8 307.9L120.8 325.3L125.5 326.3L127.1 326.3L127.1 303.7L128.2 303.7L128.2 316.8L129.2 316.8L129.2 326.3L133.4 326.3L133.4 328.4L135 328.4L135 306.8L138.2 306.8L139.7 306.8L139.7 324.2L144.5 325.3L145.5 325.3L145.5 306.8L147.1 306.8L147.1 327.9L152.4 329.5L153.4 329.5L153.4 310L154.5 310L154.5 329.5L158.7 329.5L158.7 334.2L159.7 334.2L159.7 314.7L163.9 314.7L163.9 308.4L168.2 308.4L168.2 301.1L175 288.4L176.1 288.4L176.1 301.1L177.6 301.1L177.6 317.9L180.8 317.9L180.8 320L182.9 320L182.9 309.5L185 309.5L185 322.1L188.7 322.1L188.7 316.8L190.3 316.8L190.3 323.2L200.8 330.5L208.2 336.3L209.2 336.3L209.2 320.5L210.8 320.5L210.8 333.7L214.5 333.7L214.5 337.9L216.6 337.9L216.6 318.9L221.8 317.4L222.9 317.4L222.9 332.6L226.1 332.6L226.1 331.6L229.2 331.6L229.2 312.6L233.4 312.6L233.4 309.5L240.8 307.9L242.9 307.9L242.9 324.2L242.1 324.2L246.3 324.2L246.3 325.8L247.4 325.8L247.4 307.4L252.6 306.3L253.7 306.3L253.7 323.2L257.9 323.2L257.9 325.3L258.9 325.3L258.9 306.3L264.2 303.2L268.4 303.2L268.4 304.7L269.5 304.7L269.5 322.1L274.7 323.2L275.8 323.2L275.8 302.6L276.3 302.6L276.3 316.8L277.9 316.8L277.9 324.2L282.1 324.2L283.2 324.2L283.2 302.6L284.2 302.6L284.2 322.1L288.4 322.1L288.4 325.3L289.5 325.3L289.5 302.6L290.5 302.6L290.5 311.6L292.6 311.6L292.6 324.2L294.7 324.2L294.7 327.4L296.8 327.4L296.8 302.6L297.4 302.6L297.4 311.6L298.9 311.6L298.9 322.1L301.1 322.1L301.1 327.4L303.7 327.4L303.7 306.3L305.3 306.3L305.3 324.2L309.5 324.2L309.5 326.8L312.1 326.8L312.1 299.5L313.7 299.5L313.7 315.8L314.7 315.8L314.7 326.3L317.9 326.3L317.9 328.4L319.5 328.4L319.5 301.6L321.1 301.6L321.1 311.6L322.1 311.6L322.1 326.3L326.3 326.3L326.3 328.4L327.4 328.4L327.4 301.6L329.5 301.6L329.5 322.1L332.6 322.1L332.6 329.5L334.7 329.5L334.7 305.8L338.4 305.8L338.4 305.3L338.9 305.3L338.9 300L345.3 298.9L349.5 298.9L349.5 301.1L350.5 301.1L350.5 320L355.8 333.7L356.8 333.7L356.8 311.6L360 311.6L360 303.7L362.1 303.7L362.1 324.2L366.3 324.2L366.3 335.8L367.4 335.8L367.4 316.8L372.6 315.8L374.7 315.8L374.7 308.4L376.8 308.4L376.8 325.3L382.1 329.5L384.2 329.5L384.2 306.3L391.6 305.3L393.7 305.3L393.7 322.1L397.9 322.1L397.9 326.3L398.9 326.3L398.9 311.6L395 311.6L396.1 311.6L396.1 325.3L397.1 325.3L397.9 325.3L397.9 306.3L400.8 306.3L400.8 307.4L401.8 307.4L401.8 325.3L403.9 325.3L403.9 326.3L404.5 326.3L404.5 325.3L405.3 325.3L405.3 306.3L408.2 306.3L408.2 307.4L409.2 307.4L409.2 325.3L411.3 325.3L411.3 326.3L411.8 326.3L411.8 325.3L412.7 325.3L412.7 306.3L415.5 306.3L415.5 307.4L416.6 307.4L416.6 325.3L418.7 325.3L418.7 326.3L419.2 326.3L419.2 325.3L420.1 325.3L420.1 306.3L422.9 306.3L422.9 307.4L423.9 307.4L423.9 325.3L426.1 325.3L426.1 326.3L426.6 326.3L426.6 325.3L427.4 325.3L427.4 306.3L430.3 306.3L430.3 307.4L431.3 307.4L431.3 325.3L433.4 325.3L433.4 326.3L433.9 326.3L433.9 325.3L434.8 325.3L434.8 306.3L437.6 306.3L437.6 307.4L438.7 307.4L438.7 325.3L440.8 325.3L440.8 326.3L441.3 326.3L441.3 325.3L442.2 325.3L442.2 306.3L445 306.3L445 307.4L446.1 307.4L446.1 325.3L448.2 325.3L448.2 326.3L448.7 326.3L448.7 325.3L449.5 325.3L449.5 306.3L452.4 306.3L452.4 307.4L453.4 307.4L453.4 325.3L455.5 325.3L455.5 326.3L456.1 326.3L456.1 325.3L456.9 325.3L456.9 306.3L459.7 306.3L459.7 307.4L460.8 307.4L460.8 325.3L462.9 325.3L462.9 326.3L460.3 326.3L460.3 308.4L464.5 308.4L464.5 311.6L467.6 311.6L467.6 320L469.7 320L469.7 343.2L470.5 343.2L470.5 344.8L472.9 344.8L472.9 306.7L475.2 306.7L475.2 271L477.6 271L477.6 235.2L478.8 235.2L478.8 230.5L481.2 230.5L481.2 216.2L483.6 216.2L483.6 206.7L486 206.7L486 197.1L488.3 197.1L488.3 191.2L489.5 191.2L489.5 211.4L490.7 211.4L490.7 240L491.9 240L491.9 254.3L493.1 254.3L493.1 273.3L494.3 273.3L494.3 294.8L495.5 294.8L495.5 304.3L494.7 304.3L494.7 287.9L495.5 287.9L495.5 314.1L497.1 314.1L497.1 322.9L499 322.9L499 329.2L501.4 329.2L501.4 332.4L502.2 332.4L502.2 333.2L504.1 333.2L504.6 333.2L504.6 306.2L505.1 306.2L505.1 307L505.4 307L505.4 318.5L507 318.5L507 324.4L509 324.4L509 330.8L509.4 330.8L511.3 330.8L511.7 330.8L511.7 303.8L512.2 303.8L512.2 304.6L512.5 304.6L512.5 317.3L514.1 317.3L514.1 324.4L516.1 324.4L516.1 330.8L516.5 330.8L518.4 330.8L518.9 330.8L518.9 303.4L519.4 303.4L519.4 304.2L519.7 304.2L519.7 317.1L521.3 317.1L521.3 324.4L522.9 324.4L522.9 330.8L523.3 330.8L525.6 330.8L526 330.8L526 301.8L526.5 301.8L526.5 302.6L526.8 302.6L526.8 317.1L528.4 317.1L528.4 326L530.4 326L530.4 332.4L530.8 332.4L532.3 332.4L532.8 332.4L532.8 301L533.3 301L533.3 301.8L533.6 301.8L533.6 317.9L535.2 317.9L535.2 328.4L537.5 328.4L537.5 334.8L537.9 334.8L539.8 334.8L540.3 334.8L540.3 298.7L540.8 298.7L540.8 299.4L541.1 299.4L541.1 315.1L542.7 315.1L542.7 325.2L544.7 325.2L544.7 331.6L545.1 331.6L547 331.6L547.5 331.6L547.5 296.3L547.9 296.3L547.9 297.1L548.3 297.1L548.3 313.1L549.8 313.1L549.8 323.7L551.8 323.7L551.8 330L552.2 330L553.7 330L554.2 330L554.2 295.5L554.7 295.5L554.7 296.3L555 296.3L555 312.3L556.6 312.3L556.6 322.9L559 322.9L559 329.2L559.4 329.2L560.9 329.2L561.3 329.2L561.3 293.1L561.8 293.1L561.8 293.9L562.1 293.9L562.1 310.4L563.7 310.4L563.7 321.3L566.1 321.3L566.1 327.6L566.5 327.6L568.4 327.6L568.9 327.6L568.9 293.1L569.4 293.1L569.4 293.9L569.7 293.9L569.7 311.2L571.3 311.2L571.3 322.9L574 322.9L574 329.2L574.4 329.2L575.6 329.2L576 329.2L576 301.4L576.5 301.4L576.5 302.2L576.8 302.2L576.8 315.7L578.4 315.7L578.4 323.7L581.2 323.7L581.2 330L581.6 330L583.1 330L583.6 330L583.6 301.4L584 301.4L584 302.2L584.4 302.2L584.4 317.3L586 317.3L586 326.8L589.1 326.8L589.1 333.2L589.5 333.2L591.1 333.2L591.1 310.2L594.3 310.2L594.3 306.2L596.7 306.2L596.7 303.8L599 303.8L599 299.8L600 299.8L600 299.4L602.6 299.4L602.6 300L607.9 302.1L615.3 298.9L617.4 298.9L617.4 305.3L625.8 303.2L626.8 303.2L626.8 315.8L630 315.8L630 318.4L633.2 318.4L633.2 301.1L634.2 301.1L634.2 317.9L638.4 317.9L638.4 323.2L639.5 323.2L639.5 300L643.7 300L643.7 302.1L643.7 293.7L647.9 293.7L647.9 286.3L653.2 280L660.5 273.7L665.3 269.5L666.8 269.5L666.8 291.6L673.2 290.5L680.5 297.9L681.6 297.9L681.6 290.5L682.6 290.5L682.6 298.9L688.9 309.5L691.1 309.5L691.1 315.8L695.3 315.8L695.3 314.7L701.6 322.1L705 322.1L705 323.7L715.5 327.9L741.8 333.2L743.4 333.2L743.4 319.5L745 319.5L745 333.2L750.3 334.2L751.3 334.2L751.3 316.3L752.9 316.3L752.9 328.9L756.6 328.9L756.6 334.2L758.7 334.2L758.7 313.2L760.8 313.2L760.8 328.9L763.9 328.9L763.9 334.2L766.1 334.2L766.1 315.3L770.3 315.3L770.3 311.1L776.6 308.9L777.6 308.9L777.6 321.6L780.8 321.6L780.8 325.8L782.9 325.8L782.9 306.3L783.9 306.3L783.9 321.6L789.2 325.8L790.3 325.8L790.3 307.9L792.4 307.9L792.4 321.6L796.6 321.6L796.6 326.8L798.2 326.8L798.2 312.1L799.2 312.1L799.2 324.7L802.9 324.7L802.9 327.4L805 327.4L805 308.9L810.3 305.8L811.3 305.8L811.3 323.7L815.5 323.7L815.5 325.8L816.6 325.8L816.6 306.8L823.9 303.7L826.1 303.7L826.1 320.5L830.3 320.5L830.3 321.6L831.8 321.6L831.8 301.6L834.5 301.6L834.5 320.5L838.7 320.5L838.7 322.6L839.7 322.6L839.7 305.8L842.9 305.8L842.9 301.6L845 301.6L845 318.4L849.2 318.4L849.2 322.6L850.3 322.6L850.3 302.6L852.4 302.6L852.4 312.1L855.5 312.1L855.5 324.7L858.7 324.7L858.7 308.9L860.8 308.9L860.8 325.8L860 325.8L860 324.7L864.2 324.7L864.2 307.9L868.4 307.9L868.4 305.8L870.5 305.8L870.5 320.5L874.7 320.5L874.7 324.7L876.8 324.7L876.8 306.8L877.9 306.8L877.9 320.5L882.1 320.5L882.1 324.7L883.7 324.7L883.7 303.7L885.3 303.7L885.3 318.4L889.5 318.4L889.5 324.7L890.5 324.7L890.5 305.8L892.6 305.8L892.6 319.5L896.8 319.5L896.8 324.7L898.9 324.7L898.9 307.9L901.1 307.9L901.1 321.6L904.2 321.6L904.2 324.7L906.3 324.7L906.3 307.9L908.4 307.9L908.4 324.7L911.6 324.7L911.6 327.4L913.7 327.4L913.7 312.1L915.8 312.1L915.8 325.8L918.9 325.8L918.9 328.9L921.1 328.9L921.1 310L928.4 308.9L929.5 308.9L929.5 322.6L933.7 322.6L933.7 323.7L934.7 323.7L934.7 306.8L936.8 306.8L936.8 320.5L941.1 320.5L941.1 328.9L942.1 328.9L942.1 310L949.5 308.9L952.6 308.9L952.6 305.8L954.7 305.8L954.7 310L955.8 310L955.8 321.6L960 321.6L960 324.7L961.1 324.7L961.1 306.8L965.3 306.8L965.3 310L966.3 310L966.3 322.6L971.6 324.7L975.8 324.7L975.8 310L976.8 310L976.8 322.6L981.1 322.6L981.1 327.9L982.6 327.9L982.6 312.1L985.3 312.1L985.3 326.8L1020 326.8L1039.2 326.8L1041.3 326.8L1041.3 303.7L1048.7 302.6L1049.7 302.6L1049.7 312.1L1051.8 312.1L1051.8 320.5L1055 320.5L1055 318.4L1056.1 318.4L1056.1 301.6L1057.1 301.6L1057.1 307.9L1059.2 307.9L1059.2 320.5L1061.3 320.5L1061.3 321.6L1063.4 321.6L1063.4 303.7L1064.5 303.7L1064.5 310L1066.6 310L1066.6 320.5L1068.7 320.5L1068.7 322.6L1070.3 322.6L1070.3 303.7L1071.8 303.7L1071.8 311.1L1073.9 311.1L1073.9 320.5L1076.1 320.5L1076.1 322.6L1077.6 322.6L1077.6 305.8L1079.2 305.8L1079.2 310L1081.3 310L1081.3 321.6L1083.4 321.6L1083.4 323.7L1085 323.7L1085 306.8L1086.6 306.8L1086.6 318.4L1088.7 318.4L1088.7 325.8L1090.8 325.8L1090.8 327.9L1092.9 327.9L1092.9 307.9L1099.2 305.8L1100.3 305.8L1100.3 310L1101.3 310L1101.3 320.5L1105.5 320.5L1105.5 323.7L1107.6 323.7L1107.6 305.8L1108.7 305.8L1108.7 314.2L1111.8 314.2L1111.8 322.6L1113.9 322.6L1113.9 324.7L1115 324.7L1115 305.8L1117.1 305.8L1117.1 312.1L1120.3 312.1L1120.3 324.7L1121.3 324.7L1121.3 326.8L1122.4 326.8L1122.4 310L1124.5 310L1124.5 306.8L1125.5 306.8L1125.5 317.4L1125.5 317.4L1125.5 306.5L1127.6 306.5L1127.6 256.9L1129.8 256.9L1129.8 224.6L1131.9 224.6L1131.9 209.5L1134.1 209.5L1134.1 199.9L1137.3 199.9L1137.3 194.5L1140.5 194.5L1140.5 191.2L1142.7 191.2L1142.7 194.5L1143.8 194.5L1143.8 224.6L1144.9 224.6L1144.9 246.2L1145.9 246.2L1145.9 263.4L1147 263.4L1147 284.9L1148.1 284.9L1148.1 310.8L1150.2 310.8L1150.2 306.5L1147.6 306.5L1147.6 312.1L1149.7 312.1L1149.7 310L1151.8 310L1151.8 314.2L1151.8 301.6L1156.1 301.6L1156.1 295.3L1162.4 290L1166.6 290L1166.6 288.9L1168.7 288.9L1168.7 285.8L1171.8 285.8L1171.8 284.7L1172.4 284.7L1173.4 284.7L1173.4 291.1L1174.5 291.1L1174.5 303.7L1178.7 303.7L1178.7 307.9L1179.7 307.9L1179.7 292.1L1181.8 292.1L1181.8 291.1L1182.9 291.1L1182.9 311.1L1188.2 319.5L1189.2 319.5L1189.2 303.7L1192.4 303.7L1192.4 304.7L1198.7 301.6L1199.7 301.6L1199.7 314.2L1202.9 314.2L1202.9 319.5L1205 319.5L1205 298.4L1207.1 298.4L1207.1 313.2L1211.3 313.2L1211.3 320.5L1212.9 320.5L1212.9 300.5L1214.5 300.5L1214.5 313.2L1218.7 313.2L1218.7 320.5L1220.3 320.5L1220.3 301.6L1221.8 301.6L1221.8 313.2L1227.1 320.5L1228.2 320.5L1228.2 306.8L1231.3 306.8L1231.3 320.5L1233.4 320.5L1233.4 321.6L1235 321.6L1235 301.6L1237.6 301.6L1237.6 317.4L1240.8 317.4L1240.8 322.6L1242.1 322.6L1242.1 297.8L1243.5 297.8L1243.5 341.4L1246.2 341.4L1246.2 316.9L1248.9 316.9L1248.9 276.1L1251.6 276.1L1251.6 235.2L1254.4 235.2L1254.4 221.6L1257.1 221.6L1257.1 213.5L1262.5 199.9L1268 190.3L1270.7 190.3L1270.7 188.4L1274.8 188.4L1274.8 191.7L1276.1 191.7L1276.1 210.7L1277.5 210.7L1277.5 227.1L1278.8 227.1L1278.8 254.3L1280.2 254.3L1280.2 284.2L1281.6 284.2L1281.6 303.3L1284.3 303.3L1284.3 289.7L1289.7 276.1L1295.2 274.7L1300.6 276.1L1304.7 276.1L1304.7 274.7L1306.1 274.7L1306.1 286.9L1311.5 291L1322.4 292.4L1300 274.7L1304.1 274.7L1305.4 274.7L1305.4 286.9L1308.2 286.9L1308.2 295.1L1316.3 297.8L1327.2 303.3L1334 314.1L1338.1 314.1L1338.1 335.9L1340.8 335.9L1340.8 316.9L1343.5 316.9L1343.5 276.1L1346.3 276.1L1346.3 243.4L1349 243.4L1349 227.1L1354.4 213.5L1359.9 199.9L1365.3 193.1L1370.7 189.8L1377 189L1378.4 189L1378.4 221.6L1380.3 221.6L1380.3 243.4L1381.6 243.4L1381.6 270.6L1383 270.6L1383 303.3L1384.4 303.3L1384.4 316.9L1385.8 316.9L1385.8 308.5L1386.8 308.5L1386.8 319.4L1388.8 319.4L1388.8 335.2L1391.7 335.2L1391.7 341.1L1392.7 341.1L1392.7 318.4L1393.7 318.4L1393.7 337.1L1394.7 337.1L1394.7 346L1398.6 346L1398.6 344L1399.6 344L1399.6 316.4L1402.6 316.4L1402.6 312.4L1404.6 312.4L1404.6 331.2L1408.5 331.2L1408.5 336.1L1409.5 336.1L1409.5 309.5L1411.5 309.5L1411.5 306.5L1413.4 306.5L1413.4 298.6L1414.4 298.6L1414.4 321.3L1416.4 321.3L1416.4 329.2L1419.4 329.2L1420.3 329.2L1420.3 307.5L1423.3 307.5L1423.3 306.5L1425.3 306.5L1425.3 298.6L1429.2 298.6L1429.2 293.7L1433.2 293.7L1433.2 290.7L1437.1 290.7L1437.1 287.8L1437.6 287.8L1437.6 281.8L1439.1 281.8L1439.1 292.7L1441.1 292.7L1441.1 287.8L1445 287.8L1445 283.8L1448 283.8L1448 279.9L1449 279.9L1449 299.6L1450 299.6L1450 320.3L1453.9 320.3L1453.9 328.2L1454.9 328.2L1454.9 316.4L1456.9 316.4L1456.9 287.8L1457.9 287.8L1457.9 304.6L1460.8 304.6L1460.8 333.2L1463.8 333.2L1463.8 295.7L1464.8 295.7L1464.8 286.8L1465.8 286.8L1465.8 299.6L1467.7 299.6L1467.7 329.2L1469.7 329.2L1469.7 319.4L1470.7 319.4L1470.7 301.6L1471.7 301.6L1471.7 314.4L1474.6 314.4L1474.6 329.2L1476.6 329.2L1476.6 331.2L1478.6 331.2L1478.6 306.5L1480.6 306.5L1480.6 307.5L1481.5 307.5L1481.5 319.4L1484.5 319.4L1484.5 333.2L1487.5 333.2L1487.5 306.5L1488.5 306.5L1488.5 322.3L1491.4 322.3L1491.4 333.2L1498.3 333.2L1500.8 333.2L1500.8 321.3L1502.3 321.3L1502.3 334.2L1508.2 335.6L1520 338.1" fill="none" stroke="#78be20" stroke-width="1.05"/>
<circle cx="466.5" cy="306.2" r="4.2" fill="#1b94d2"/>
<circle cx="466.5" cy="302.7" r="4.2" fill="#78be20"/>
<circle cx="466.5" cy="322.6" r="4.2" fill="#168ccb"/>
<circle cx="466.5" cy="333.1" r="4.2" fill="#00884a"/>
<circle cx="466.5" cy="456.4" r="4.2" fill="#00624a"/>
</svg>
<div class="abs panel"></div>
<div class="abs h1">Vybraný čas<span class="ts">11. dub 2023 11:45 (Europe/Prague)</span></div>
<div class="abs h2" style="top:658px">Nepřetržité parametry</div>
<div class="abs h2" style="top:759.8px">Další parametry</div>
<div class="card " style="left:29px;top:683px;height:65px;border-top-color:#c08519"><div class="val" style="color:#c08519">0<sup>%</sup></div><div class="lab">ZV: Aktuální<br>výstup zdroje...</div></div>
<div class="card " style="left:127px;top:683px;height:65px;border-top-color:#00624a"><div class="val" style="color:#00624a">0<sup>l/min</sup></div><div class="lab">TV1: Teplá vody<br>výstup</div></div>
<div class="card " style="left:225px;top:683px;height:65px;border-top-color:#00624a"><div class="val" style="color:#00624a">50<sup>°C</sup></div><div class="lab">TV1: TV tepl.<br>požad.</div></div>
<div class="card " style="left:323px;top:683px;height:65px;border-top-color:#00884a"><div class="val" style="color:#00884a">40.2<sup>°C</sup></div><div class="lab">TV1: Teplota<br>zásobníku</div></div>
<div class="card " style="left:421px;top:683px;height:65px;border-top-color:#008ecf"><div class="val" style="color:#008ecf">49<sup>°C</sup></div><div class="lab">ZV: požad. tepl.<br>zdroje</div></div>
<div class="card " style="left:519px;top:683px;height:65px;border-top-color:#008ecf"><div class="val" style="color:#008ecf">43.5<sup>°C</sup></div><div class="lab">ZV: Teplota<br>vratky</div></div>
<div class="card " style="left:617px;top:683px;height:65px;border-top-color:#78be20"><div class="val" style="color:#78be20">50<sup>°C</sup></div><div class="lab">ZV: aktual. tepl.<br>zdroje</div></div>
<div class="card plus" style="left:715px;top:683px;height:65px"><svg width="88" height="65"><line x1="36" y1="32.5" x2="52" y2="32.5" stroke="#111" stroke-width="1"/><line x1="44" y1="24.3" x2="44" y2="39.8" stroke="#111" stroke-width="1"/></svg></div>
<div class="card c2" style="left:29px;top:784px;height:60px;border-top-color:#50237f"><div class="val" style="top:10.1px;color:#50237f">Ano</div><div class="lab">ZV: UT aktivní</div></div>
<div class="card c2" style="left:127px;top:784px;height:60px;border-top-color:#a80005"><div class="val" style="top:7.2px;color:#a80005">Ne</div><div class="lab">ZV: Provozní<br>chyba</div></div>
<div class="card c2" style="left:225px;top:784px;height:60px;border-top-color:#b90276"><div class="val" style="top:10.1px;color:#b90276">Ne</div><div class="lab">TV1: TV aktivní</div></div>
<div class="card plus" style="left:323px;top:784px;height:60px"><svg width="88" height="60"><line x1="36" y1="30.5" x2="52" y2="30.5" stroke="#111" stroke-width="1"/><line x1="44" y1="22.3" x2="44" y2="37.8" stroke="#111" stroke-width="1"/></svg></div>
</body></html>
